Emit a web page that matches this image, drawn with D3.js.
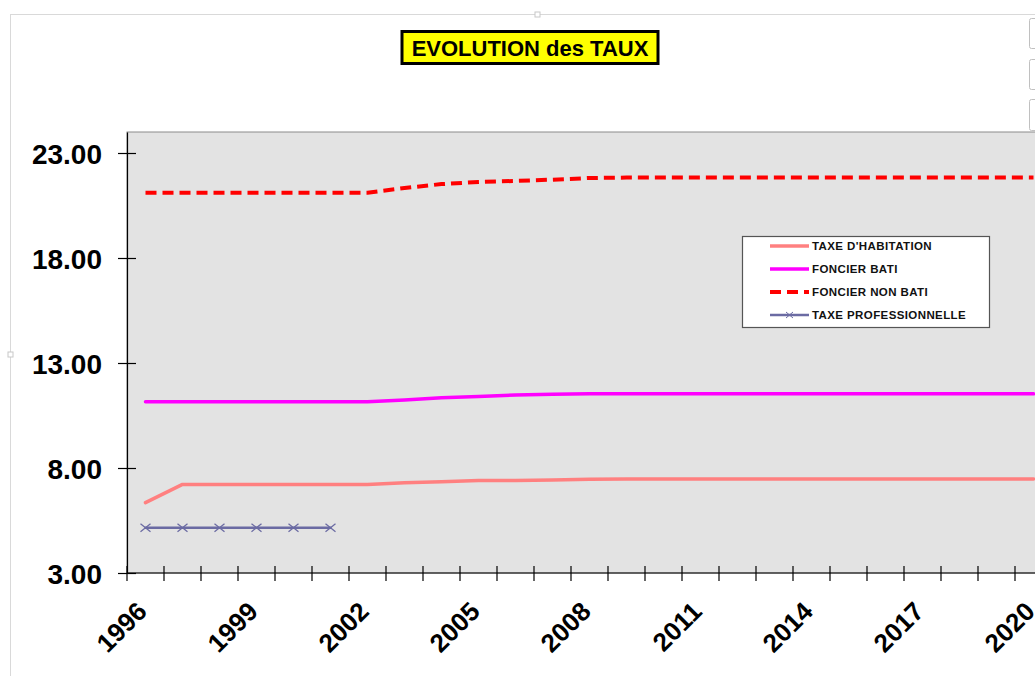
<!DOCTYPE html>
<html>
<head>
<meta charset="utf-8">
<script src="https://cdn.jsdelivr.net/npm/d3@7"></script>
<style>
  html, body { margin: 0; padding: 0; background: #ffffff; }
  svg { display: block; font-family: "Liberation Sans", Arial, sans-serif; }
</style>
</head>
<body>
<div id="chart"></div>
<script>
// categories (years) and tick labels
const years = [1996, 1997, 1998, 1999, 2000, 2001, 2002, 2003, 2004, 2005, 2006, 2007, 2008,
  2009, 2010, 2011, 2012, 2013, 2014, 2015, 2016, 2017, 2018, 2019, 2020, 2021];
const yearLabels = [1996, 1999, 2002, 2005, 2008, 2011, 2014, 2017, 2020];
const yTicks = [3, 8, 13, 18, 23];

// series values
const taxeHabitation = [6.35, 7.22, 7.22, 7.22, 7.22, 7.22, 7.22, 7.30, 7.35, 7.40, 7.41, 7.43, 7.46,
  7.48, 7.48, 7.48, 7.48, 7.48, 7.48, 7.48, 7.48, 7.48, 7.48, 7.48, 7.48];
const foncierBati = [11.16, 11.16, 11.16, 11.16, 11.16, 11.16, 11.16, 11.24, 11.35, 11.41, 11.48, 11.51, 11.53,
  11.53, 11.53, 11.53, 11.53, 11.53, 11.53, 11.53, 11.53, 11.53, 11.53, 11.53, 11.53];
const foncierNonBati = [21.11, 21.11, 21.11, 21.11, 21.11, 21.11, 21.11, 21.33, 21.52, 21.62, 21.67, 21.73, 21.81,
  21.83, 21.83, 21.83, 21.83, 21.83, 21.83, 21.83, 21.83, 21.83, 21.83, 21.83, 21.83];
const taxeProfessionnelle = [5.16, 5.16, 5.16, 5.16, 5.16, 5.16];

const seriesNames = ['TAXE D\'HABITATION', 'FONCIER BATI', 'FONCIER NON BATI', 'TAXE PROFESSIONNELLE'];

let series = [
  {name: seriesNames[0], values: taxeHabitation, color: '#ff8080', width: 3.5, dash: null},
  {name: seriesNames[1], values: foncierBati, color: '#ff00ff', width: 3.5, dash: null},
  {name: seriesNames[2], values: foncierNonBati, color: '#ff0000', width: 4, dash: '11,6'},
  {name: seriesNames[3], values: taxeProfessionnelle, color: '#6b6ba3', width: 2.5, dash: null, marker: true}
];

var fullWidth = 1035;
var fullHeight = 676;
var margin = {top: 132, left: 127, bottom: 103};
var band = 37;

var svg = d3.select('#chart')
  .append('svg')
  .attr('width', fullWidth)
  .attr('height', fullHeight);

// chart area frame (excel-like)
svg.append('rect')
  .attr('x', 10.5).attr('y', 14.5)
  .attr('width', 1100).attr('height', 700)
  .attr('fill', '#ffffff')
  .attr('stroke', '#d9d9d9');
svg.append('rect').attr('x', 535).attr('y', 12).attr('width', 5).attr('height', 5)
  .attr('fill', '#fff').attr('stroke', '#c8c8c8');
svg.append('rect').attr('x', 8).attr('y', 352).attr('width', 5).attr('height', 5)
  .attr('fill', '#fff').attr('stroke', '#c8c8c8');
[[18, 30], [59, 30], [99, 31]].forEach(b => {
  svg.append('rect')
    .attr('x', 1029.5).attr('y', b[0] + 0.5)
    .attr('width', 20).attr('height', b[1])
    .attr('rx', 2)
    .attr('fill', '#ffffff')
    .attr('stroke', '#c0c0c0');
});

var xScale = d3.scaleBand()
  .domain(years)
  .range([margin.left, margin.left + years.length * band])
  .paddingInner(0).paddingOuter(0);

var yScale = d3.scaleLinear()
  .domain([3, 24])
  .range([fullHeight - margin.bottom, margin.top]);

var plotRight = margin.left + years.length * band;

// plot area
svg.append('rect')
  .attr('x', margin.left)
  .attr('y', margin.top)
  .attr('width', plotRight - margin.left)
  .attr('height', yScale(3) - margin.top)
  .attr('fill', '#e3e3e3')
  .attr('stroke', '#8c8c8c')
  .attr('stroke-width', 1);

// y axis
var yAxis = d3.axisLeft(yScale)
  .tickValues(yTicks)
  .tickSize(0)
  .tickFormat(d3.format('.2f'));

var yg = svg.append('g')
  .attr('class', 'axis y')
  .attr('transform', `translate(${margin.left},0)`)
  .call(yAxis);
yg.select('.domain').attr('stroke', '#000').attr('stroke-width', 1.2);
yg.selectAll('.tick line')
  .attr('x1', -9).attr('x2', 9)
  .attr('stroke', '#000').attr('stroke-width', 1.2);
yg.selectAll('.tick text')
  .attr('x', -25)
  .attr('dy', '0.36em')
  .attr('font-size', 28)
  .attr('font-weight', 'bold')
  .attr('fill', '#000');

// x axis: tick at every category boundary, label every third year
var xg = svg.append('g')
  .attr('class', 'axis x')
  .attr('transform', `translate(0,${yScale(3)})`);
xg.append('line')
  .attr('x1', margin.left).attr('x2', plotRight)
  .attr('stroke', '#000').attr('stroke-width', 1.2);
xg.selectAll('line.tick')
  .data(years)
  .enter().append('line')
  .attr('class', 'tick')
  .attr('x1', d => xScale(d)).attr('x2', d => xScale(d))
  .attr('y1', -7).attr('y2', 8)
  .attr('stroke', '#000').attr('stroke-width', 1.2);
xg.selectAll('text')
  .data(yearLabels)
  .enter().append('text')
  .attr('transform', d => `translate(${xScale(d) + xScale.bandwidth() / 2 + 3},${40}) rotate(-45)`)
  .attr('text-anchor', 'end')
  .attr('font-size', 26)
  .attr('font-weight', 'bold')
  .attr('fill', '#000')
  .text(d => d);

// lines
var line = d3.line()
  .x((d, i) => xScale(years[i]) + xScale.bandwidth() / 2)
  .y(d => yScale(d));

var dataArea = svg.append('g').attr('class', 'data-area');
series.forEach(s => {
  dataArea.append('path')
    .datum(s.values)
    .attr('fill', 'none')
    .attr('stroke', s.color)
    .attr('stroke-width', s.width)
    .attr('stroke-dasharray', s.dash)
    .attr('stroke-linejoin', 'round')
    .attr('stroke-linecap', s.dash ? 'butt' : 'round')
    .attr('d', line);
  if (s.marker) {
    dataArea.selectAll(null)
      .data(s.values)
      .enter().append('path')
      .attr('d', (d, i) => {
        let cx = xScale(years[i]) + xScale.bandwidth() / 2, cy = yScale(d);
        return `M${cx - 5},${cy - 4}L${cx + 5},${cy + 4}M${cx - 5},${cy + 4}L${cx + 5},${cy - 4}`;
      })
      .attr('stroke', s.color)
      .attr('stroke-width', 1.3)
      .attr('fill', 'none');
  }
});

// legend
var legend = svg.append('g').attr('class', 'legend');
legend.append('rect')
  .attr('x', 742.5).attr('y', 236.5)
  .attr('width', 247).attr('height', 91)
  .attr('fill', '#ffffff')
  .attr('stroke', '#555')
  .attr('stroke-width', 1.2);
let legendRows = [246, 269, 292, 315];
series.forEach((s, i) => {
  let ly = legendRows[i];
  legend.append('line')
    .attr('x1', 770).attr('x2', 809)
    .attr('y1', ly).attr('y2', ly)
    .attr('stroke', s.color)
    .attr('stroke-width', s.dash ? 4 : (s.marker ? 2.5 : 3.5))
    .attr('stroke-dasharray', s.dash ? '11,6' : null);
  if (s.marker) {
    legend.append('path')
      .attr('d', `M${786},${ly - 3}L${793},${ly + 3}M${786},${ly + 3}L${793},${ly - 3}`)
      .attr('stroke', s.color).attr('stroke-width', 1);
  }
  legend.append('text')
    .attr('x', 812)
    .attr('y', ly + 4)
    .attr('font-size', 11.5)
    .attr('font-weight', 'bold')
    .attr('letter-spacing', 0.4)
    .attr('fill', '#111')
    .text(s.name);
});

// title
var title = svg.append('g').attr('class', 'figure-title');
title.append('rect')
  .attr('x', 402).attr('y', 31.5)
  .attr('width', 256).attr('height', 32)
  .attr('fill', '#ffff00')
  .attr('stroke', '#000')
  .attr('stroke-width', 3);
title.append('text')
  .attr('x', 530)
  .attr('y', 56)
  .attr('text-anchor', 'middle')
  .attr('font-size', 22)
  .attr('font-weight', 'bold')
  .attr('fill', '#000')
  .text('EVOLUTION des TAUX');
</script>
</body>
</html>
